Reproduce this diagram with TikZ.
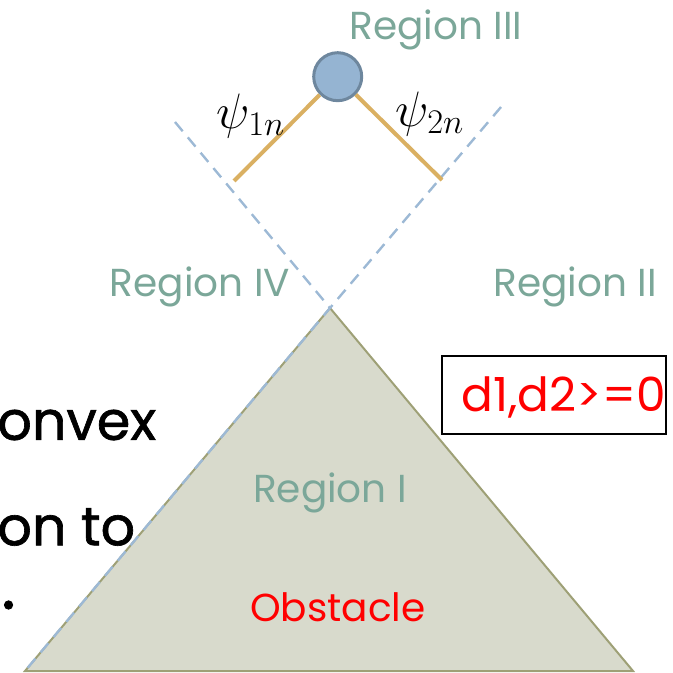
\documentclass[tikz,border=0pt]{standalone}
\usepackage{fontspec}
\setmainfont{Poppins}
\newfontfamily\bodyfont[FakeBold=1.2]{Poppins}
\usetikzlibrary{positioning}
\definecolor{RegionGreen}{HTML}{7BA799}
\definecolor{ObstFill}{HTML}{D8DACC}
\definecolor{ObstEdge}{HTML}{9EA076}
\definecolor{BallFill}{HTML}{95B4D2}
\definecolor{BallEdge}{HTML}{6E879E}
\definecolor{LegOrange}{HTML}{DAB062}
\definecolor{SplitBlue}{HTML}{9DB9D5}

\begin{document}
\begin{tikzpicture}[x=0.5pt,y=-0.5pt,
  region/.style={text=RegionGreen,font=\fontsize{19.5}{23}\selectfont,inner sep=0pt},
  redtext/.style={text=red,font=\fontsize{19.5}{23}\selectfont,inner sep=0pt},
  bodytext/.style={font=\bodyfont\fontsize{27}{32}\selectfont,anchor=west,inner sep=0pt},
  split/.style={SplitBlue,line width=1.2pt,dash pattern=on 6pt off 4pt},
  leg/.style={LegOrange,line width=2pt}]
  \useasboundingbox (0,0) rectangle (673,673);
  % obstacle corners
  \coordinate (apex) at (330,308);
  \coordinate (botL) at (25,671);
  \coordinate (botR) at (633,671);
  \filldraw[fill=ObstFill,draw=ObstEdge,line width=1pt] (apex) -- (botR) -- (botL) -- cycle;
  % region boundaries
  \coordinate (splitL) at (175,122);
  \coordinate (splitR) at (501,107);
  \draw[split] (splitL) -- (apex) -- (botL);
  \draw[split] (splitR) -- (apex);
  % robot and its two legs
  \node[circle,fill=BallFill,draw=BallEdge,line width=1.5pt,minimum size=24pt,inner sep=0pt] (ball) at (337.7,76.7) {};
  \coordinate (legL) at (234,181);
  \coordinate (legR) at (442,180);
  \draw[leg] (ball) -- (legL);
  \draw[leg] (ball) -- (legR);
  \node[font=\fontsize{27}{30}\selectfont] (psiA) at (251,116) {$\psi_{1n}$};
  \node[font=\fontsize{27}{30}\selectfont] (psiB) at (430,114) {$\psi_{2n}$};
  % labels
  \node[region] (regIII) at (436,30) {Region III};
  \node[region] (regIV) at (200,287) {Region IV};
  \node[region] (regII) at (575,287) {Region II};
  \node[region] (regI) at (330,493) {Region I};
  \node[redtext] (obst) at (338,607) {Obstacle};
  \node[draw,line width=1pt,minimum width=112pt,minimum height=39pt,inner sep=0pt] (cond) at (554,395) {};
  \node[text=red,font=\fontsize{23.5}{27}\selectfont,inner sep=0pt,anchor=east] (condtext) at (666,397) {d1,d2>=0};
  \node[bodytext] (lineA) at (-3,425) {onvex};
  \node[bodytext] (lineB) at (-3,527) {on to};
  \node[bodytext,font=\bodyfont\fontsize{34}{38}\selectfont] (lineC) at (1,605) {.};
\end{tikzpicture}
\end{document}
